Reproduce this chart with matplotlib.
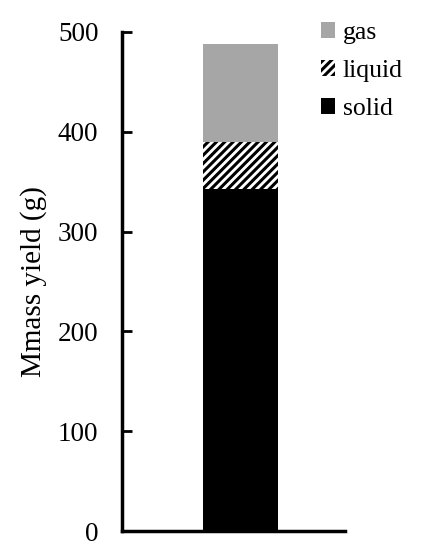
import matplotlib
matplotlib.use("Agg")
import matplotlib.pyplot as plt
from matplotlib.patches import Patch

categories = [""]
solid = [343]
liquid = [47]
gas = [98]
yticks = [0, 100, 200, 300, 400, 500]

plt.rcParams['font.family'] = ['Liberation Serif', 'DejaVu Serif']
plt.rcParams['hatch.linewidth'] = 2.2

fig = plt.figure(figsize=(4.21, 5.5), dpi=100)
ax = fig.add_axes([0.29, 0.0345, 0.53, 0.9075])

x = [0]
w = 0.67
ax.bar(x, solid, w, color='black', edgecolor='none', label='solid')
ax.bar(x, liquid, w, bottom=solid, facecolor='white', edgecolor='black',
       hatch='////', linewidth=0, label='liquid')
bot3 = [s + l for s, l in zip(solid, liquid)]
ax.bar(x, gas, w, bottom=bot3, color='#a6a6a6', edgecolor='none', label='gas')

ax.set_ylim(0, 500)
ax.set_xlim(-1.06, 0.94)
ax.set_yticks(yticks)
ax.set_xticks([])
ax.tick_params(axis='y', direction='in', length=7, width=2, labelsize=19.5, pad=17)
for s in ['top', 'right']:
    ax.spines[s].set_visible(False)
ax.spines['left'].set_linewidth(2.5)
ax.spines['bottom'].set_linewidth(2.5)
ax.set_ylabel('Mmass yield (g)', fontsize=21, labelpad=8)

handles = [Patch(facecolor='#a6a6a6', edgecolor='none', label='gas'),
           Patch(facecolor='white', edgecolor='black', hatch='////', linewidth=0, label='liquid'),
           Patch(facecolor='black', edgecolor='none', label='solid')]
ax.legend(handles=handles, loc='upper left', bbox_to_anchor=(321 / 421, 1 - 22 / 550),
          bbox_transform=fig.transFigure, frameon=False,
          fontsize=18.5, handlelength=0.55, handleheight=0.55, handletextpad=0.3,
          labelspacing=0.62, borderaxespad=0, borderpad=0)

fig.savefig('out.png', dpi=100)
